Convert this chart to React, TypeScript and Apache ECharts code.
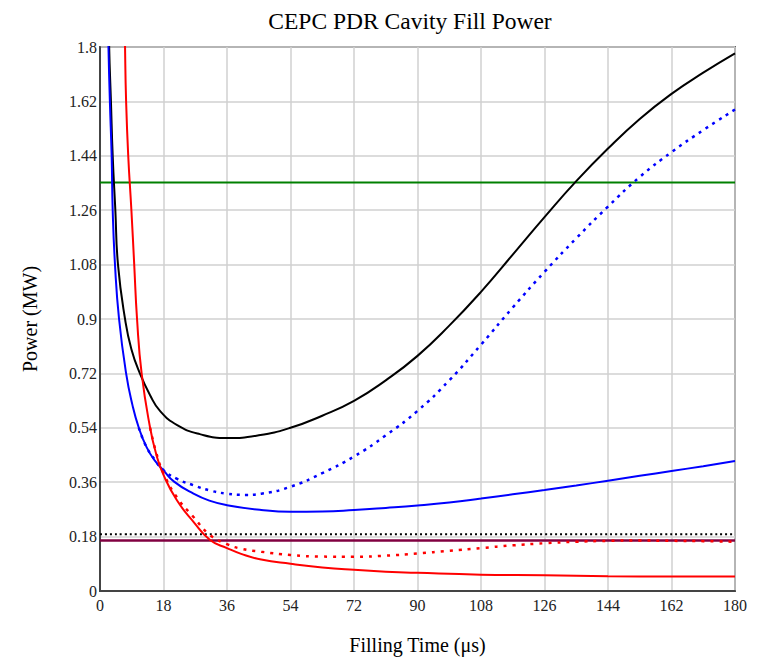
import React, { useEffect, useRef } from "react";
import * as echarts from "echarts";

const xTicks = [0, 18, 36, 54, 72, 90, 108, 126, 144, 162, 180];
const yTicks = [0, 0.18, 0.36, 0.54, 0.72, 0.9, 1.08, 1.26, 1.44, 1.62, 1.8];

// Black solid curve
const blackX = [2.2, 2.6, 3.1, 3.6, 4.35, 5.1, 7.1, 8.9, 11.3, 14.2, 17, 22, 28.3, 36, 45, 54, 63, 72, 81, 90, 99, 108, 117, 126, 135, 144, 153, 162, 171, 180];
const blackY = [2.1, 1.8, 1.62, 1.44, 1.26, 1.08, 0.9, 0.8, 0.72, 0.648, 0.596, 0.548, 0.519, 0.506, 0.515, 0.54, 0.58, 0.629, 0.697, 0.778, 0.878, 0.99, 1.113, 1.237, 1.356, 1.464, 1.562, 1.645, 1.715, 1.779];

// Blue solid curve
const blueX = [2.1, 2.4, 2.8, 3.3, 3.6, 4.25, 5.4, 7.4, 9.2, 11.0, 13.2, 15.5, 18, 21, 26.5, 31, 36, 45.7, 54, 63, 72, 81, 90, 99, 108, 117, 126, 135, 144, 153, 162, 171, 180];
const blueY = [2.0, 1.8, 1.62, 1.44, 1.26, 1.08, 0.9, 0.72, 0.615, 0.54, 0.476, 0.432, 0.399, 0.362, 0.322, 0.299, 0.284, 0.268, 0.262, 0.263, 0.268, 0.275, 0.283, 0.293, 0.306, 0.32, 0.334, 0.349, 0.365, 0.381, 0.397, 0.413, 0.43];

// Blue dotted curve
const blueDotX = [11.0, 13.2, 15.5, 18, 22, 26.5, 31, 36, 41, 45.7, 54, 63, 72, 81, 90, 99, 108, 117, 126, 135, 144, 153, 162, 171, 180];
const blueDotY = [0.54, 0.476, 0.435, 0.40, 0.37, 0.35, 0.333, 0.322, 0.318, 0.322, 0.345, 0.39, 0.445, 0.515, 0.596, 0.697, 0.815, 0.938, 1.056, 1.167, 1.272, 1.37, 1.452, 1.525, 1.593];

// Red solid curve
const redX = [6.9, 7.1, 7.4, 8.0, 8.9, 9.7, 10.5, 11.8, 14.2, 16, 18, 21.8, 26.5, 31.2, 36, 40, 45.7, 54, 63, 72, 81, 90, 108, 126, 144, 162, 180];
const redY = [2.0, 1.8, 1.62, 1.44, 1.26, 1.08, 0.9, 0.72, 0.54, 0.45, 0.384, 0.30, 0.229, 0.169, 0.142, 0.123, 0.104, 0.09, 0.078, 0.07, 0.064, 0.06, 0.054, 0.052, 0.049, 0.048, 0.048];

// Red dotted curve
const redDotX = [14.2, 16, 18, 21.8, 26.5, 31.2, 36, 40, 45.7, 54, 63, 72, 81, 90, 99, 108, 117, 126, 135, 144, 153, 162, 171, 180];
const redDotY = [0.54, 0.455, 0.39, 0.31, 0.245, 0.185, 0.155, 0.14, 0.13, 0.119, 0.114, 0.113, 0.117, 0.124, 0.133, 0.142, 0.151, 0.158, 0.163, 0.166, 0.167, 0.166, 0.165, 0.163];

// Horizontal reference levels
const greenLevel = 1.352;
const blackDotLevel = 0.188;
const purpleLevel = 0.167;

const pairs = (xs: number[], ys: number[]) => xs.map((x, i) => [x, ys[i]]);
const hline = (v: number) => [[0, v], [180, v]];

const FONT = "'Liberation Serif', 'Times New Roman', serif";

export default function App() {
  const ref = useRef<HTMLDivElement>(null);
  useEffect(() => {
    if (!ref.current) return;
    const chart = echarts.init(ref.current, null, { renderer: "svg" });
    const curve = (name: string, data: number[][], color: string, type: any, width = 2) => ({
      name,
      type: "line",
      data,
      showSymbol: false,
      symbol: "none",
      smooth: 0.5,
      clip: true,
      lineStyle: { color, width, type },
      z: 3,
    });
    chart.setOption({
      animation: false,
      backgroundColor: "#ffffff",
      title: {
        text: "CEPC PDR Cavity Fill Power",
        left: 405,
        textAlign: "center",
        top: 4,
        textStyle: { fontFamily: FONT, fontSize: 23.5, fontWeight: "normal", color: "#000" },
      },
      grid: {
        left: 100,
        right: 30,
        top: 47,
        bottom: 65,
        show: true,
        borderColor: "#666",
        borderWidth: 2,
        containLabel: false,
      },
      xAxis: {
        type: "value",
        min: 0,
        max: 180,
        interval: 18,
        name: "Filling Time (μs)",
        nameLocation: "middle",
        nameGap: 44,
        nameTextStyle: { fontFamily: FONT, fontSize: 20, color: "#000" },
        axisLine: { show: true, lineStyle: { color: "#444", width: 2 } },
        axisTick: { show: false },
        axisLabel: {
          fontFamily: FONT,
          fontSize: 16,
          color: "#222",
          margin: 6,
          formatter: (v: number) => (xTicks.includes(v) ? String(v) : ""),
        },
        splitLine: { show: true, lineStyle: { color: "#d0d0d0", width: 1.5 } },
      },
      yAxis: {
        type: "value",
        min: 0,
        max: 1.8,
        interval: 0.18,
        name: "Power (MW)",
        nameLocation: "middle",
        nameGap: 60,
        nameTextStyle: { fontFamily: FONT, fontSize: 20, color: "#000" },
        axisLine: { show: true, lineStyle: { color: "#444", width: 2 } },
        axisTick: { show: false },
        axisLabel: {
          fontFamily: FONT,
          fontSize: 16,
          color: "#222",
          margin: 3,
          formatter: (v: number) => {
            const r = parseFloat(v.toFixed(2));
            const t = yTicks.find((y) => Math.abs(y - r) < 1e-6);
            return t === undefined ? "" : String(t);
          },
        },
        splitLine: { show: true, lineStyle: { color: "#d0d0d0", width: 1.5 } },
      },
      series: [
        curve("green", hline(greenLevel), "#008000", "solid"),
        curve("blackDot", hline(blackDotLevel), "#000000", [2, 3]),
        curve("purple", hline(purpleLevel), "#800040", "solid", 2.5),
        curve("black", pairs(blackX, blackY), "#000000", "solid"),
        curve("blue", pairs(blueX, blueY), "#0000ff", "solid"),
        curve("blueDot", pairs(blueDotX, blueDotY), "#0000ff", [3, 5], 2.5),
        curve("red", pairs(redX, redY), "#ff0000", "solid"),
        curve("redDot", pairs(redDotX, redDotY), "#ff0000", [3, 6], 2.5),
      ],
    });
    return () => chart.dispose();
  }, []);
  return <div ref={ref} style={{ width: 765, height: 660, position: "absolute", left: 0, top: 0 }} />;
}
